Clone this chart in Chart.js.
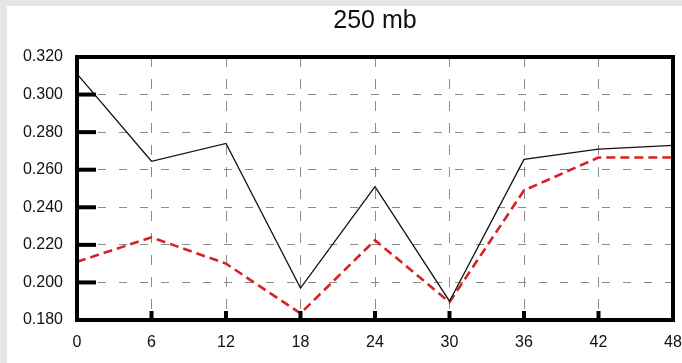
<!DOCTYPE html>
<html>
<head>
<meta charset="utf-8">
<script src="https://cdn.jsdelivr.net/npm/chart.js@4/dist/chart.umd.min.js"></script>
<style>
  html, body { margin: 0; padding: 0; background: #e6e6e6; }
  #wrap { position: absolute; left: 0; top: 0; width: 682px; height: 363px; }
</style>
</head>
<body>
<div id="wrap"><canvas id="c" width="682" height="363"></canvas></div>
<script>
// Forecast hour (x) and the two score series at 250 mb
const forecastHours = [0, 6, 12, 18, 24, 30, 36, 42, 48];
const seriesSolid   = [0.311, 0.2645, 0.274, 0.197, 0.251, 0.190, 0.2655, 0.271, 0.273];
const seriesDashed  = [0.211, 0.224, 0.210, 0.1835, 0.2225, 0.1895, 0.249, 0.2665, 0.2665];
const yTickValues   = [0.18, 0.20, 0.22, 0.24, 0.26, 0.28, 0.30, 0.32];
const xTickValues   = [0, 6, 12, 18, 24, 30, 36, 42, 48];
const titleText     = '250 mb';

const FONT = "'Liberation Sans', Arial, Helvetica, sans-serif";

const toPoints = vals => forecastHours.map((h, i) => ({ x: h, y: vals[i] }));

// Page backdrop: grey margin strip on the left/top, white panel elsewhere
const backdrop = {
  id: 'backdrop',
  beforeDraw(chart) {
    const ctx = chart.ctx;
    ctx.save();
    ctx.fillStyle = '#e6e6e6';
    ctx.fillRect(0, 0, chart.width, chart.height);
    ctx.fillStyle = '#ffffff';
    ctx.fillRect(7, 6, chart.width - 7, chart.height - 6);
    ctx.restore();
  }
};

// Heavy frame with inward tick marks
const frame = {
  id: 'frame',
  afterDatasetsDraw(chart) {
    const { ctx, chartArea: a, scales } = chart;
    ctx.save();
    ctx.strokeStyle = '#000';
    ctx.lineCap = 'butt';
    ctx.lineWidth = 4;
    // left-axis ticks (long, inward)
    yTickValues.forEach(v => {
      const y = scales.y.getPixelForValue(v);
      ctx.beginPath();
      ctx.moveTo(a.left, y);
      ctx.lineTo(a.left + 19, y);
      ctx.stroke();
    });
    // bottom-axis ticks (short, inward)
    xTickValues.forEach(v => {
      const x = scales.x.getPixelForValue(v);
      ctx.beginPath();
      ctx.moveTo(x, a.bottom);
      ctx.lineTo(x, a.bottom - 9);
      ctx.stroke();
    });
    ctx.strokeRect(a.left, a.top, a.right - a.left, a.bottom - a.top);
    ctx.restore();
  }
};

new Chart(document.getElementById('c'), {
  type: 'line',
  data: {
    datasets: [
      {
        data: toPoints(seriesSolid),
        borderColor: '#111111',
        borderWidth: 1.3,
        pointRadius: 0,
        tension: 0,
        clip: false
      },
      {
        data: toPoints(seriesDashed),
        borderColor: '#d82222',
        borderWidth: 2.6,
        borderDash: [9, 5],
        pointRadius: 0,
        tension: 0,
        clip: false
      }
    ]
  },
  options: {
    responsive: false,
    animation: false,
    devicePixelRatio: 1,
    layout: { padding: { left: 0, right: 9, top: 0, bottom: 0 } },
    plugins: {
      legend: { display: false },
      tooltip: { enabled: false },
      title: {
        display: true,
        text: titleText,
        fullSize: false,
        color: '#111',
        font: { family: FONT, size: 25, weight: 'normal', lineHeight: 1.2 },
        padding: { top: 6, bottom: 21 }
      }
    },
    scales: {
      x: {
        type: 'linear',
        min: 0,
        max: 48,
        afterBuildTicks: s => { s.ticks = xTickValues.map(v => ({ value: v })); },
        afterFit: s => { s.height = 43; s.paddingLeft = 0; s.paddingRight = 0; },
        border: { display: false, dash: [10, 12] },
        grid: {
          drawTicks: false,
          color: ctx => (ctx.tick && (ctx.tick.value === 0 || ctx.tick.value === 48)) ? 'rgba(0,0,0,0)' : '#8a8a8a',
          lineWidth: 1
        },
        ticks: {
          padding: 13,
          color: '#111',
          font: { family: FONT, size: 16 },
          maxRotation: 0,
          autoSkip: false,
          callback: v => String(v)
        }
      },
      y: {
        min: 0.18,
        max: 0.32,
        afterBuildTicks: s => { s.ticks = yTickValues.map(v => ({ value: v })); },
        afterFit: s => { s.width = 77; },
        border: { display: false, dash: [8, 13] },
        grid: {
          drawTicks: false,
          color: '#8a8a8a',
          lineWidth: 1
        },
        ticks: {
          padding: 14,
          color: '#111',
          font: { family: FONT, size: 16 },
          autoSkip: false,
          callback: v => Number(v).toFixed(3)
        }
      }
    }
  },
  plugins: [backdrop, frame]
});
</script>
</body>
</html>
